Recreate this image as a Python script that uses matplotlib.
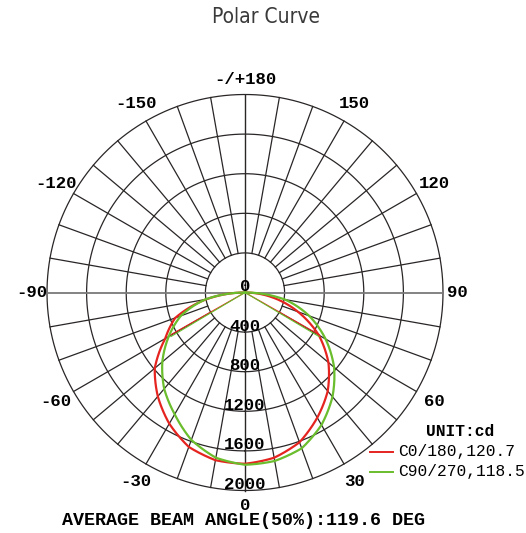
import numpy as np
import matplotlib.pyplot as plt
from matplotlib.transforms import offset_copy

# gamma angle in degrees (negative = left half of the diagram)
angles = [-90, -80, -70, -60, -50, -40, -30, -20, -10, 0, 10, 20, 30, 40, 50, 60, 70, 80, 90]
c0_cd = [0, 400, 750, 930, 1190, 1370, 1530, 1660, 1720, 1730, 1695, 1610, 1460, 1300, 1100, 860, 570, 280, 0]
c90_cd = [0, 410, 690, 890, 1090, 1270, 1420, 1585, 1695, 1740, 1728, 1675, 1545, 1375, 1175, 940, 690, 410, 0]
c0_beam = 120.7
c90_beam = 118.5
avg_beam = 119.6

ring_values = [0, 400, 800, 1200, 1600, 2000]
tick_angles = [-150, -120, -90, -60, -30, 0, 30, 60, 90, 120, 150, 180]
tick_labels = ["-150", "-120", "-90", "-60", "-30", "0", "30", "60", "90", "120", "150", "-/+180"]

RED = "#e52420"
GREEN = "#6abd2c"
GRID = "#2a2626"
MONO = "Liberation Mono"

fig = plt.figure(figsize=(5.26, 5.33), dpi=100)
ax = fig.add_axes([47 / 526, 42.5 / 533, 396 / 526, 396 / 533], projection="polar")
ax.set_theta_zero_location("S")
ax.set_theta_direction(1)
ax.set_ylim(0, 2000)
ax.axis("off")

# grid: rings, spokes, axes through the centre
full = np.linspace(0, 2 * np.pi, 400)
for rv in ring_values[1:]:
    ax.plot(full, np.full_like(full, rv), color=GRID, lw=0.9, clip_on=False)
for a in range(0, 360, 10):
    if a % 90 == 0:
        continue
    ax.plot([np.radians(a)] * 2, [400, 2000], color=GRID, lw=0.9, clip_on=False)
ax.plot([0, 0], [0, 2000], color=GRID, lw=1.0, clip_on=False)
ax.plot([np.pi, np.pi], [0, 2000], color=GRID, lw=1.0, clip_on=False)
ax.plot([np.pi / 2] * 2, [0, 2000], color="#7a7a7a", lw=1.3, clip_on=False)
ax.plot([-np.pi / 2] * 2, [0, 2000], color="#7a7a7a", lw=1.3, clip_on=False)

# curves + beam-angle lines
th = np.radians(angles)
for vals, beam, col in [(c0_cd, c0_beam, RED), (c90_cd, c90_beam, GREEN)]:
    ln, = ax.plot(th, vals, color=col, lw=1.6, zorder=5, solid_joinstyle="round")
    ln.get_path()._interpolation_steps = 40  # follow the polar arc between samples
    half = max(vals) / 2
    ax.plot(np.radians([-beam / 2, 0, beam / 2]), [half, 0, half], color=col, lw=0.8, zorder=5)

# ring labels (just above each ring on the 0 line)
lab_tr = offset_copy(ax.transData, fig=fig, x=0, y=6, units="dots")
for rv in ring_values:
    ax.text(0, rv, str(rv), transform=lab_tr, ha="center", va="center",
            fontsize=12.5, fontweight="bold", family=MONO, zorder=6)

# angle labels
for a, t in zip(tick_angles, tick_labels):
    r = 2150 if a % 90 == 0 else 2210
    ax.text(np.radians(a), r, t, ha="center", va="center",
            fontsize=12.5, fontweight="bold", family=MONO)

fig.text(0.505, 1 - 17 / 533, "Polar Curve", ha="center", va="center",
         fontsize=15, color="#3a3a3a", fontstretch="condensed",
         family=["Liberation Sans Narrow", "DejaVu Sans"])

# legend
fig.text(460 / 526, 1 - 431.5 / 533, "UNIT:cd", ha="center", va="center",
         fontsize=11.7, fontweight="bold", family=MONO)
for y, col, txt in [(451.5, RED, f"C0/180,{c0_beam}"), (471.5, GREEN, f"C90/270,{c90_beam}")]:
    yf = 1 - y / 533
    fig.add_artist(plt.Line2D([370 / 526, 393 / 526], [yf, yf], color=col, lw=1.4))
    fig.text(398 / 526, yf, txt, ha="left", va="center", fontsize=11.7, family=MONO)

fig.text(244 / 526, 1 - 520.5 / 533, f"AVERAGE BEAM ANGLE(50%):{avg_beam} DEG",
         ha="center", va="center", fontsize=13.2, fontweight="bold", family=MONO)

fig.savefig("out.png", dpi=100)
